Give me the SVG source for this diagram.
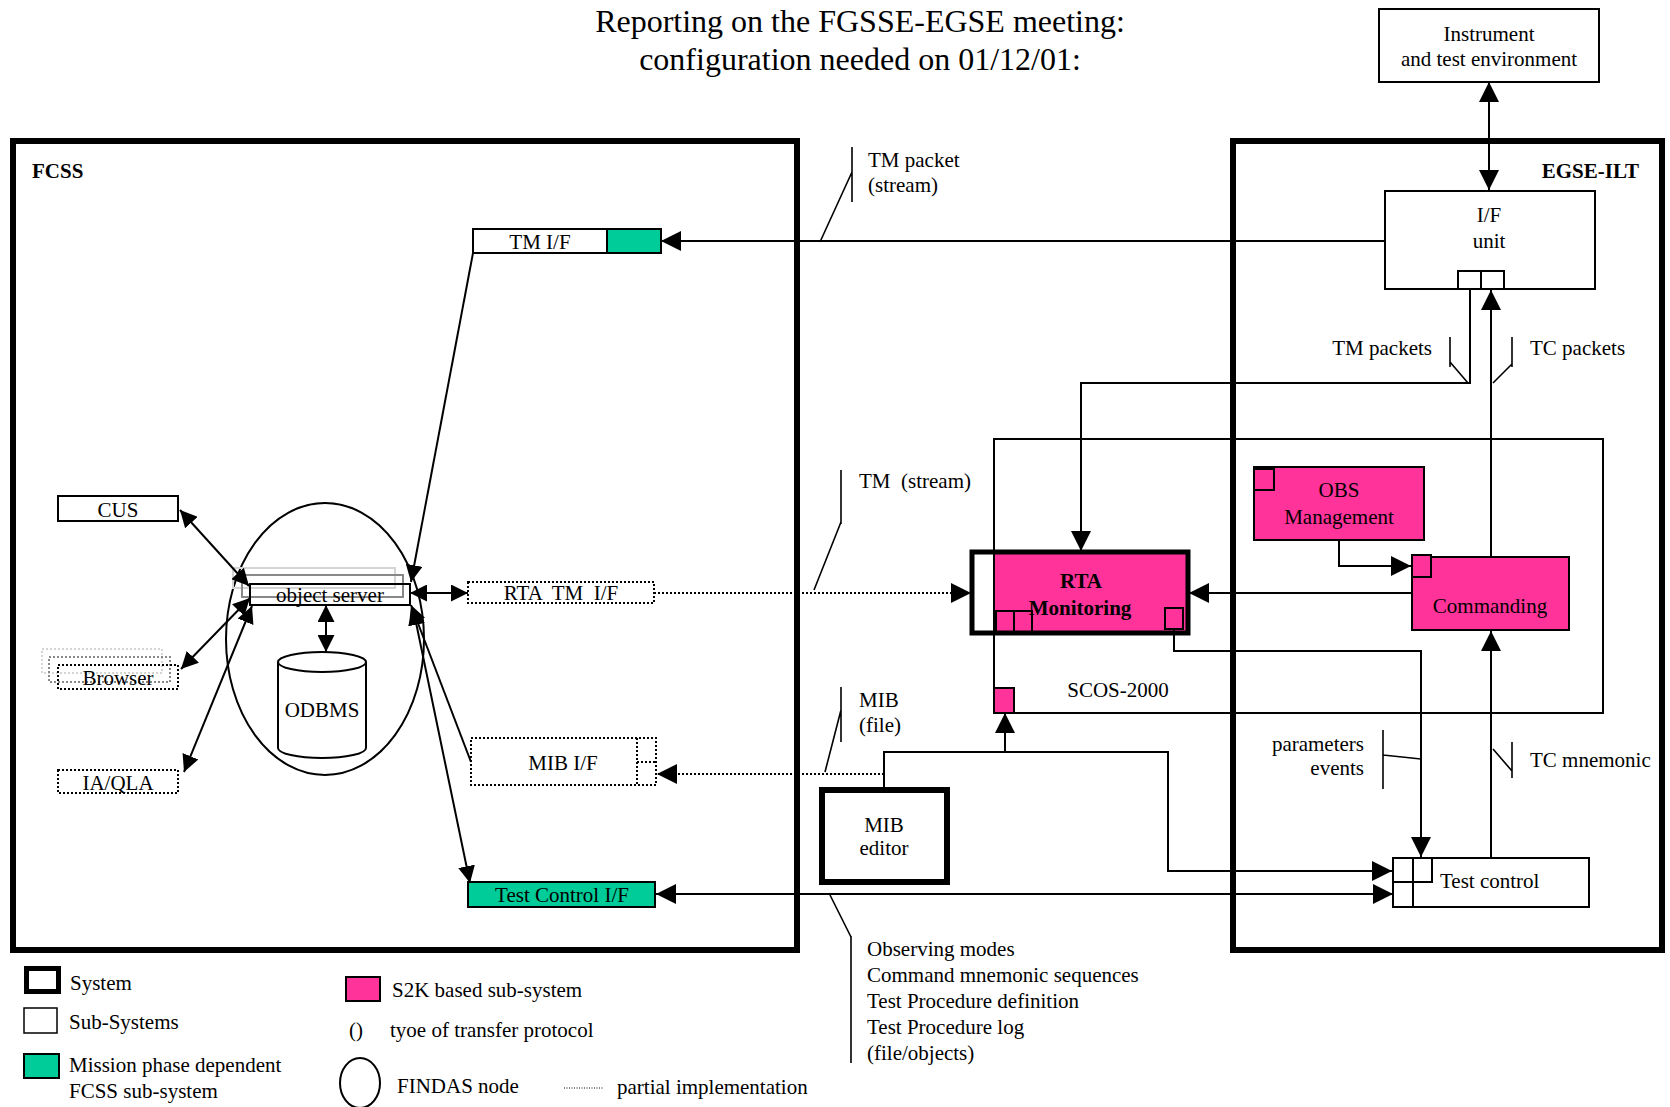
<svg xmlns="http://www.w3.org/2000/svg" width="1670" height="1107" viewBox="0 0 1670 1107">
<style>
text{font-family:"Liberation Serif","Times New Roman",serif;font-size:21px;fill:#000}
.b{font-weight:bold}
.m{text-anchor:middle}
.e{text-anchor:end}
.pre{white-space:pre}
.box{fill:#fff;stroke:#000;stroke-width:2}
.nof{fill:none;stroke:#000;stroke-width:2}
.sys{fill:none;stroke:#000;stroke-width:6}
.dot{fill:#fff;stroke:#000;stroke-width:2;stroke-dasharray:2 2}
.green{fill:#00CC99;stroke:#000;stroke-width:2}
.pink{fill:#FF3399;stroke:#000;stroke-width:2}
.ln{fill:none;stroke:#000;stroke-width:2}
.dln{fill:none;stroke:#000;stroke-width:2;stroke-dasharray:2 2}
.ld{fill:none;stroke:#000;stroke-width:1.6}
</style>
<defs>
<marker id="ah" viewBox="0 0 20 20" refX="20" refY="10" markerWidth="20" markerHeight="20" markerUnits="userSpaceOnUse" orient="auto-start-reverse"><path d="M0,0 L20,10 L0,20 z" fill="#000"/></marker>
<marker id="as" viewBox="0 0 20 20" refX="20" refY="10" markerWidth="17" markerHeight="17" markerUnits="userSpaceOnUse" orient="auto-start-reverse"><path d="M0,0 L20,10 L0,20 z" fill="#000"/></marker>
</defs>

<g id="title">
<text class="m" x="860" y="32" style="font-size:32px">Reporting on the FGSSE-EGSE meeting:</text>
<text class="m" x="860" y="70" style="font-size:32px">configuration needed on 01/12/01:</text>
</g>

<g id="fcss">
<rect class="sys" x="13" y="141" width="784" height="809"/>
<text class="b" x="32" y="178">FCSS</text>
</g>
<g id="egse-ilt">
<rect class="sys" x="1233" y="141" width="429" height="809"/>
<text class="b e" x="1639" y="178">EGSE-ILT</text>
</g>
<g id="scos-2000">
<rect class="nof" x="994" y="439" width="609" height="274"/>
<text class="m" x="1118" y="697">SCOS-2000</text>
<rect class="pink" x="994" y="688" width="20" height="25"/>
</g>

<g id="instrument">
<rect class="box" x="1379" y="9" width="220" height="73"/>
<text class="m" x="1489" y="41">Instrument</text>
<text class="m" x="1489" y="66">and test environment</text>
</g>
<g id="if-unit">
<rect class="box" x="1385" y="191" width="210" height="98"/>
<text class="m" x="1489" y="222">I/F</text>
<text class="m" x="1489" y="248">unit</text>
<rect class="box" x="1458" y="271" width="23" height="18"/>
<rect class="box" x="1481" y="271" width="23" height="18"/>
</g>

<g id="findas-node">
<ellipse class="nof" cx="325" cy="639" rx="99" ry="136"/>
</g>
<g id="object-server">
<rect x="233" y="568" width="162" height="20" fill="none" stroke="#d4d4d4" stroke-width="2"/>
<rect x="242" y="575" width="161" height="22" fill="none" stroke="#888" stroke-width="2"/>
<rect class="nof" x="250" y="584" width="160" height="21"/>
<text class="m" x="330" y="602">object server</text>
</g>
<g id="odbms">
<path class="box" d="M278,662 L278,748 A44,10 0 0 0 366,748 L366,662"/>
<ellipse class="box" cx="322" cy="662" rx="44" ry="10"/>
<text class="m" x="322" y="717">ODBMS</text>
</g>
<g id="cus">
<rect class="box" x="58" y="496" width="120" height="25"/>
<text class="m" x="118" y="517">CUS</text>
</g>
<g id="browser">
<rect x="42" y="649" width="120" height="24" fill="none" stroke="#d4d4d4" stroke-width="2" stroke-dasharray="2 2"/>
<rect x="49" y="657" width="121" height="25" fill="none" stroke="#888" stroke-width="2" stroke-dasharray="2 2"/>
<rect x="58" y="665" width="120" height="24" fill="none" stroke="#000" stroke-width="2" stroke-dasharray="2 2"/>
<text class="m" x="118" y="685">Browser</text>
</g>
<g id="ia-qla">
<rect class="dot" x="58" y="770" width="120" height="23"/>
<text class="m" x="118" y="790">IA/QLA</text>
</g>
<g id="tm-if">
<rect class="box" x="473" y="229" width="134" height="24"/>
<rect class="green" x="607" y="229" width="54" height="24"/>
<text class="m" x="540" y="249">TM I/F</text>
</g>
<g id="rta-tm-if">
<rect class="dot" x="468" y="582" width="186" height="21"/>
<text class="m pre" x="561" y="600">RTA  TM  I/F</text>
</g>
<g id="mib-if">
<rect class="dot" x="471" y="738" width="185" height="47"/>
<path class="dln" d="M637,738 V785 M637,762 H656"/>
<text class="m" x="563" y="770">MIB I/F</text>
</g>
<g id="test-control-if">
<rect class="green" x="468" y="882" width="187" height="25"/>
<text class="m" x="562" y="902">Test Control I/F</text>
</g>

<g id="rta-monitoring">
<rect x="972" y="552" width="216" height="81" fill="#fff"/>
<rect class="pink" x="994" y="552" width="194" height="81"/>
<rect class="pink" x="996" y="611" width="18" height="21"/>
<rect class="pink" x="1014" y="611" width="18" height="21"/>
<rect class="pink" x="1165" y="608" width="18" height="21"/>
<rect x="972" y="552" width="216" height="81" fill="none" stroke="#000" stroke-width="5"/>
<text class="m b" x="1081" y="588">RTA</text>
<text class="m b" x="1080" y="615">Monitoring</text>
</g>
<g id="obs-management">
<rect class="pink" x="1254" y="467" width="170" height="73"/>
<rect class="pink" x="1254" y="469" width="20" height="21"/>
<text class="m" x="1339" y="497">OBS</text>
<text class="m" x="1339" y="524">Management</text>
</g>
<g id="commanding">
<rect class="pink" x="1412" y="557" width="157" height="73"/>
<rect class="pink" x="1412" y="555" width="19" height="22"/>
<text class="m" x="1490" y="613">Commanding</text>
</g>
<g id="test-control">
<rect class="box" x="1393" y="858" width="196" height="49"/>
<rect class="box" x="1393" y="858" width="20" height="24"/>
<rect class="box" x="1413" y="858" width="19" height="24"/>
<rect class="box" x="1393" y="882" width="20" height="25"/>
<text x="1440" y="888">Test control</text>
</g>
<g id="mib-editor">
<rect x="822" y="790" width="125" height="92" fill="#fff" stroke="#000" stroke-width="6"/>
<text class="m" x="884" y="832">MIB</text>
<text class="m" x="884" y="855">editor</text>
</g>

<g id="connectors">
<path class="ln" d="M1385,241 H661" marker-end="url(#ah)"/>
<path class="ln" d="M1489,82 V190" marker-start="url(#ah)" marker-end="url(#ah)"/>
<path class="ln" d="M180,510 L249,586" marker-start="url(#as)" marker-end="url(#as)"/>
<path class="ln" d="M181,669 L250,598" marker-start="url(#as)" marker-end="url(#as)"/>
<path class="ln" d="M184,772 L252,606" marker-start="url(#as)" marker-end="url(#as)"/>
<path class="ln" d="M473,253 L411,582" marker-end="url(#as)"/>
<path class="ln" d="M410,593 H468" marker-start="url(#as)" marker-end="url(#as)"/>
<path class="ln" d="M471,762 L411,605" marker-end="url(#as)"/>
<path class="ln" d="M413,608 L470,883" marker-start="url(#as)" marker-end="url(#as)"/>
<path class="ln" d="M326,605 V652" marker-start="url(#as)" marker-end="url(#as)"/>
<path class="dln" d="M654,593 H971" marker-end="url(#ah)"/>
<path class="dln" d="M884,774 H657" marker-end="url(#ah)"/>
<path class="ln" d="M1393,894 H656" marker-start="url(#ah)" marker-end="url(#ah)"/>
<path class="ln" d="M1470,289 V383 H1081 V551" marker-end="url(#ah)"/>
<path class="ln" d="M1491,557 V290" marker-end="url(#ah)"/>
<path class="ln" d="M1339,540 V566 H1411" marker-end="url(#ah)"/>
<path class="ln" d="M1412,593 H1189" marker-end="url(#ah)"/>
<path class="ln" d="M1174,629 V651 H1421 V857" marker-end="url(#ah)"/>
<path class="ln" d="M1491,858 V631" marker-end="url(#ah)"/>
<path class="ln" d="M884,790 V752 H1168 V871 H1392" marker-end="url(#ah)"/>
<path class="ln" d="M1005,752 V713" marker-end="url(#ah)"/>
</g>

<g id="labels">
<path class="ld" d="M852,147 V202 M852,172 L820,242"/>
<text x="868" y="167">TM packet</text>
<text x="868" y="192">(stream)</text>
<path class="ld" d="M841,470 V524 M841,522 L814,590"/>
<text class="pre" x="859" y="488">TM  (stream)</text>
<path class="ld" d="M841,687 V742 M841,710 L825,772"/>
<text x="859" y="707">MIB</text>
<text x="859" y="732">(file)</text>
<path class="ld" d="M851,936 V1063 M830,895 L851,937"/>
<text x="867" y="956">Observing modes</text>
<text x="867" y="982">Command mnemonic sequences</text>
<text x="867" y="1008">Test Procedure definition</text>
<text x="867" y="1034">Test Procedure log</text>
<text x="867" y="1060">(file/objects)</text>
<path class="ld" d="M1450,337 V367 M1450,362 L1468,383"/>
<text class="e" x="1432" y="355">TM packets</text>
<path class="ld" d="M1512,337 V367 M1512,364 L1493,383"/>
<text x="1530" y="355">TC packets</text>
<path class="ld" d="M1383,730 V789 M1383,755 L1421,759"/>
<text class="e" x="1364" y="751">parameters</text>
<text class="e" x="1364" y="775">events</text>
<path class="ld" d="M1512,742 V778 M1512,771 L1493,749"/>
<text x="1530" y="767">TC mnemonic</text>
</g>

<g id="legend">
<rect x="26.5" y="968.5" width="32" height="23" fill="#fff" stroke="#000" stroke-width="5"/>
<text x="70" y="990">System</text>
<rect x="24" y="1008" width="33" height="25" fill="#fff" stroke="#000" stroke-width="1.5"/>
<text x="69" y="1029">Sub-Systems</text>
<rect class="green" x="24" y="1054" width="35" height="24"/>
<text x="69" y="1072">Mission phase dependent</text>
<text x="69" y="1098">FCSS sub-system</text>
<rect class="pink" x="346" y="977" width="34" height="24"/>
<text x="392" y="997">S2K based  sub-system</text>
<text x="349" y="1037">()</text>
<text x="390" y="1037">tyoe of transfer protocol</text>
<ellipse class="nof" cx="360" cy="1083" rx="20" ry="25"/>
<text x="397" y="1093">FINDAS node</text>
<path d="M564,1088 H603" fill="none" stroke="#000" stroke-width="1" stroke-dasharray="1 1.5"/>
<text x="617" y="1094">partial implementation</text>
</g>
</svg>
